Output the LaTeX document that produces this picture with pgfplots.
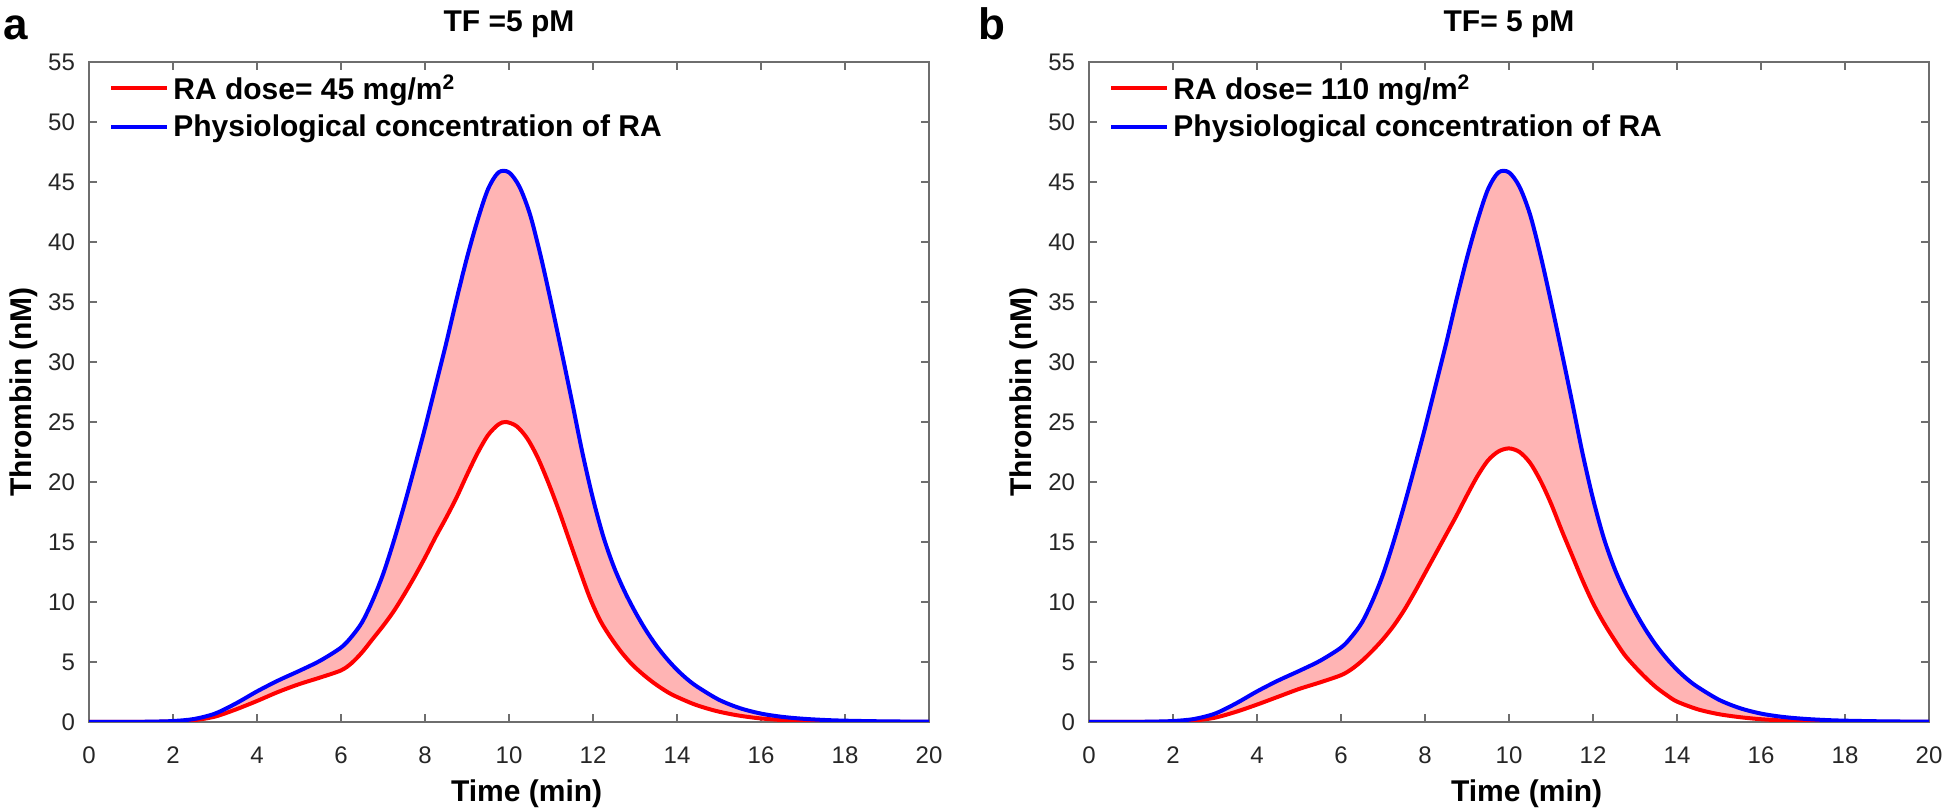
\documentclass[border=0pt]{standalone}
\usepackage{fontspec}
\setmainfont{Liberation Sans}
\usepackage{pgfplots}
\usepackage{pgfplotstable}
\pgfplotsset{compat=1.18}
\usepgfplotslibrary{fillbetween}

\definecolor{fillpink}{RGB}{255,180,180}
\definecolor{axgray}{RGB}{110,110,110}

\pgfplotstableread{
t v
0 0
1 0.01
1.5 0.03
2 0.08
2.5 0.25
3 0.7
3.5 1.55
4 2.55
4.5 3.45
5 4.25
5.5 5.1
6 6.2
6.25 7.1
6.5 8.3
6.75 10.1
7 12.3
7.25 15.0
7.5 18.0
7.75 21.2
8 24.5
8.25 28.0
8.5 31.5
8.75 35.2
9 38.7
9.25 41.8
9.5 44.4
9.75 45.8
10 45.8
10.25 44.6
10.5 42.3
10.75 38.9
11 35.0
11.25 30.9
11.5 26.7
11.75 22.4
12 18.6
12.25 15.4
12.5 12.9
12.75 10.9
13 9.2
13.25 7.7
13.5 6.4
13.75 5.3
14 4.35
14.25 3.55
14.5 2.9
15 1.85
15.5 1.15
16 0.7
16.5 0.43
17 0.27
17.5 0.17
18 0.11
19 0.05
20 0.03
}\bluedata

\pgfplotstableread{
t v
0 0
1 0.005
1.5 0.015
2 0.04
2.5 0.15
3 0.45
3.5 1.05
4 1.75
4.5 2.5
5 3.15
5.5 3.7
6 4.3
6.25 4.9
6.5 5.8
6.75 6.9
7 8.0
7.25 9.2
7.5 10.6
7.75 12.1
8 13.7
8.25 15.4
8.5 17.0
8.75 18.7
9 20.6
9.25 22.4
9.5 23.9
9.75 24.8
9.93 25.0
10.18 24.65
10.43 23.65
10.68 22.06
10.93 20.0
11.18 17.7
11.43 15.2
11.68 12.7
11.93 10.3
12.18 8.4
12.43 7.0
12.68 5.8
12.93 4.8
13.18 4.0
13.43 3.3
13.68 2.7
13.93 2.2
14.43 1.45
14.93 0.92
15.43 0.56
15.93 0.32
16.5 0.16
17 0.09
18 0.03
20 0.01
}\redadata

\pgfplotstableread{
t v
0 0
1 0.004
1.5 0.012
2 0.03
2.5 0.12
3 0.36
3.5 0.85
4 1.45
4.5 2.1
5 2.75
5.5 3.3
6 3.9
6.25 4.4
6.5 5.1
6.75 5.95
7 6.9
7.25 8.0
7.5 9.3
7.75 10.8
8 12.4
8.25 14.0
8.5 15.6
8.75 17.2
9 18.9
9.25 20.5
9.5 21.8
9.75 22.55
10 22.8
10.25 22.5
10.5 21.6
10.75 20.1
11 18.2
11.25 16.0
11.5 13.9
11.75 11.8
12 9.9
12.25 8.3
12.5 6.9
12.75 5.6
13 4.6
13.25 3.7
13.5 2.9
13.75 2.25
14 1.7
14.5 1.05
15 0.65
15.5 0.4
16 0.23
16.5 0.13
17 0.07
18 0.025
20 0.01
}\redbdata

\newcommand{\bfont}{\bfseries\fontsize{15}{18}\selectfont}

\pgfplotsset{
  myax/.style={
    scale only axis, width=420pt, height=330pt,
    xmin=0, xmax=20, ymin=0, ymax=55,
    xtick={0,2,...,20}, ytick={0,5,...,55},
    tick align=inside, tick pos=both, major tick length=4pt,
    axis line style={axgray, line width=0.8pt},
    tick style={axgray, line width=0.8pt},
    ticklabel style={font=\fontsize{12}{14}\selectfont, text=black!85},
    /pgf/number format/assume math mode=true,
    xticklabel style={yshift=-9pt},
    yticklabel style={xshift=-3.5pt},
    xlabel={Time (min)}, ylabel={Thrombin (nM)},
    xlabel style={font=\bfont, at={(axis description cs:0.521,0)}, anchor=base, yshift=-40pt},
    ylabel style={font=\bfont, at={(axis description cs:-0.069,0.5)}, anchor=base},
    title style={font=\bfont, at={(axis description cs:0.5,1)}, anchor=base, yshift=9pt},
    legend style={at={(axis description cs:0,1)}, anchor=north west, xshift=10pt, yshift=-4pt,
      draw=none, fill=none, font=\bfont, inner sep=0pt, row sep=2pt},
    legend cell align=left,
    legend image code/.code={\draw[#1, line width=2pt] (0pt,0pt) -- (28pt,0pt);},
  }
}

\begin{document}
\begin{tikzpicture}
\begin{axis}[myax, at={(44.5pt,45pt)}, anchor=south west, title={TF =5 pM}]
  \addplot[red, line width=2pt, smooth, name path=R] table[x=t,y=v]{\redadata};
  \addlegendentry{RA dose= 45 mg/m\textsuperscript{2}}
  \addplot[blue, line width=2pt, smooth, name path=B] table[x=t,y=v]{\bluedata};
  \addlegendentry{Physiological concentration of RA}
  \addplot[fillpink, draw=none, forget plot] fill between[of=R and B];
\end{axis}
\begin{axis}[myax, at={(544.5pt,45pt)}, anchor=south west, title={TF= 5 pM}]
  \addplot[red, line width=2pt, smooth, name path=R] table[x=t,y=v]{\redbdata};
  \addlegendentry{RA dose= 110 mg/m\textsuperscript{2}}
  \addplot[blue, line width=2pt, smooth, name path=B] table[x=t,y=v]{\bluedata};
  \addlegendentry{Physiological concentration of RA}
  \addplot[fillpink, draw=none, forget plot] fill between[of=R and B];
\end{axis}
\node[anchor=base west, inner sep=0pt, font=\bfseries\fontsize{22}{26}\selectfont] at (1.5pt,386pt) {a};
\node[anchor=base west, inner sep=0pt, font=\bfseries\fontsize{22}{26}\selectfont] at (489pt,386pt) {b};
\pgfresetboundingbox
\path[use as bounding box] (0,0) rectangle (973pt,406pt);
\end{tikzpicture}
\end{document}
